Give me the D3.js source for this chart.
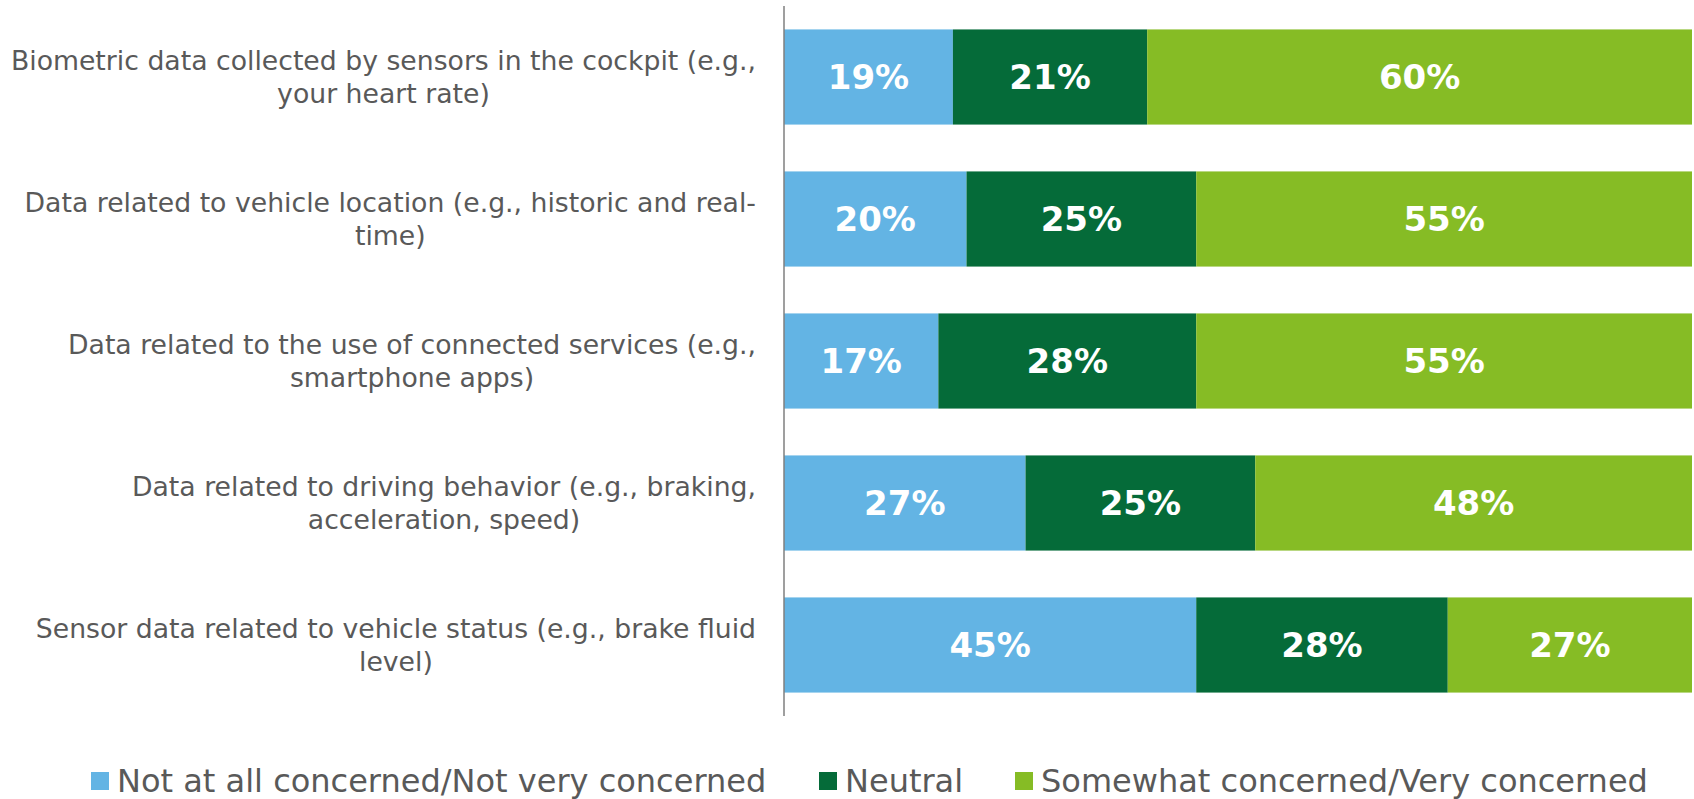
<!DOCTYPE html>
<html lang="en">
<head>
<meta charset="utf-8">
<title>Data concerns</title>
<script src="https://cdn.jsdelivr.net/npm/d3@7"></script>
<style>
  body { margin: 0; background: #fff; }
  text { font-family: "DejaVu Sans", Verdana, sans-serif; }
</style>
</head>
<body>
<script>
// categories (two lines each, as in the original)
var categories = [
  ["Biometric data collected by sensors in the cockpit (e.g.,", "your heart rate)"],
  ["Data related to vehicle location (e.g., historic and real-", "time)"],
  ["Data related to the use of connected services (e.g.,", "smartphone apps)"],
  ["Data related to driving behavior (e.g., braking,", "acceleration, speed)"],
  ["Sensor data related to vehicle status (e.g., brake fluid", "level)"]
];
var seriesNames = ["Not at all concerned/Not very concerned", "Neutral", "Somewhat concerned/Very concerned"];
// shares; labels show them rounded
var notConcerned = [18.6, 20.1, 17.0, 26.6, 45.4];
var neutral      = [21.4, 25.3, 28.4, 25.3, 27.7];
var concerned    = [60.0, 54.6, 54.6, 48.1, 26.9];
var colors = ["#63b4e4", "#056b39", "#86bc25"];

var width = 1694, height = 799;
var svg = d3.select("body").append("svg")
  .attr("width", width).attr("height", height);

var rows = categories.map(function(c, i) {
  return { id: i, a: notConcerned[i], b: neutral[i], c: concerned[i] };
});

var x = d3.scaleLinear().domain([0, 100]).range([784, 1692]);
var y = d3.scaleBand().domain(d3.range(categories.length)).range([6, 716])
  .paddingInner(0.33).paddingOuter(0.165);

var stack = d3.stack().keys(["a", "b", "c"]);
var layers = stack(rows);

var g = svg.selectAll("g.layer").data(layers).enter().append("g")
  .attr("class", "layer")
  .attr("fill", function(d, i) { return colors[i]; });

g.selectAll("rect").data(function(d) { return d; }).enter().append("rect")
  .attr("x", function(d) { return x(d[0]); })
  .attr("y", function(d) { return y(d.data.id); })
  .attr("width", function(d) { return x(d[1]) - x(d[0]); })
  .attr("height", y.bandwidth());

g.selectAll("text").data(function(d) { return d; }).enter().append("text")
  .attr("x", function(d) { return (x(d[0]) + x(d[1])) / 2; })
  .attr("y", function(d) { return y(d.data.id) + y.bandwidth() / 2; })
  .attr("dy", "0.36em")
  .attr("text-anchor", "middle")
  .attr("fill", "#fff")
  .style("font-weight", "bold")
  .style("font-size", "34px")
  .text(function(d) { return Math.round(d[1] - d[0]) + "%"; });

// category axis line
svg.append("line")
  .attr("x1", x(0)).attr("x2", x(0))
  .attr("y1", y.range()[0]).attr("y2", y.range()[1])
  .attr("stroke", "#7f7f7f").attr("stroke-width", 1.5);

// category labels: block right-aligned, lines centered within block
var labelRight = 756;
categories.forEach(function(lines, i) {
  var cy = y(i) + y.bandwidth() / 2;
  var lg = svg.append("g");
  var ts = lines.map(function(t, j) {
    return lg.append("text")
      .attr("y", cy + (j - (lines.length - 1) / 2) * 33)
      .attr("dy", "0.36em")
      .attr("text-anchor", "middle")
      .attr("fill", "#595959")
      .style("font-size", "26.7px")
      .text(t);
  });
  var w = d3.max(ts, function(t) { return t.node().getComputedTextLength(); });
  ts.forEach(function(t) { t.attr("x", labelRight - w / 2); });
});

// legend
var legendX = [91, 819, 1015];
var legend = svg.selectAll("g.legend").data(seriesNames).enter().append("g")
  .attr("class", "legend")
  .attr("transform", function(d, i) { return "translate(" + legendX[i] + ",780)"; });
legend.append("rect")
  .attr("x", 0).attr("y", -8).attr("width", 18).attr("height", 18)
  .attr("fill", function(d, i) { return colors[i]; });
legend.append("text")
  .attr("x", 26).attr("dy", "0.36em")
  .attr("fill", "#595959")
  .style("font-size", "32px")
  .text(function(d) { return d; });
</script>
</body>
</html>
